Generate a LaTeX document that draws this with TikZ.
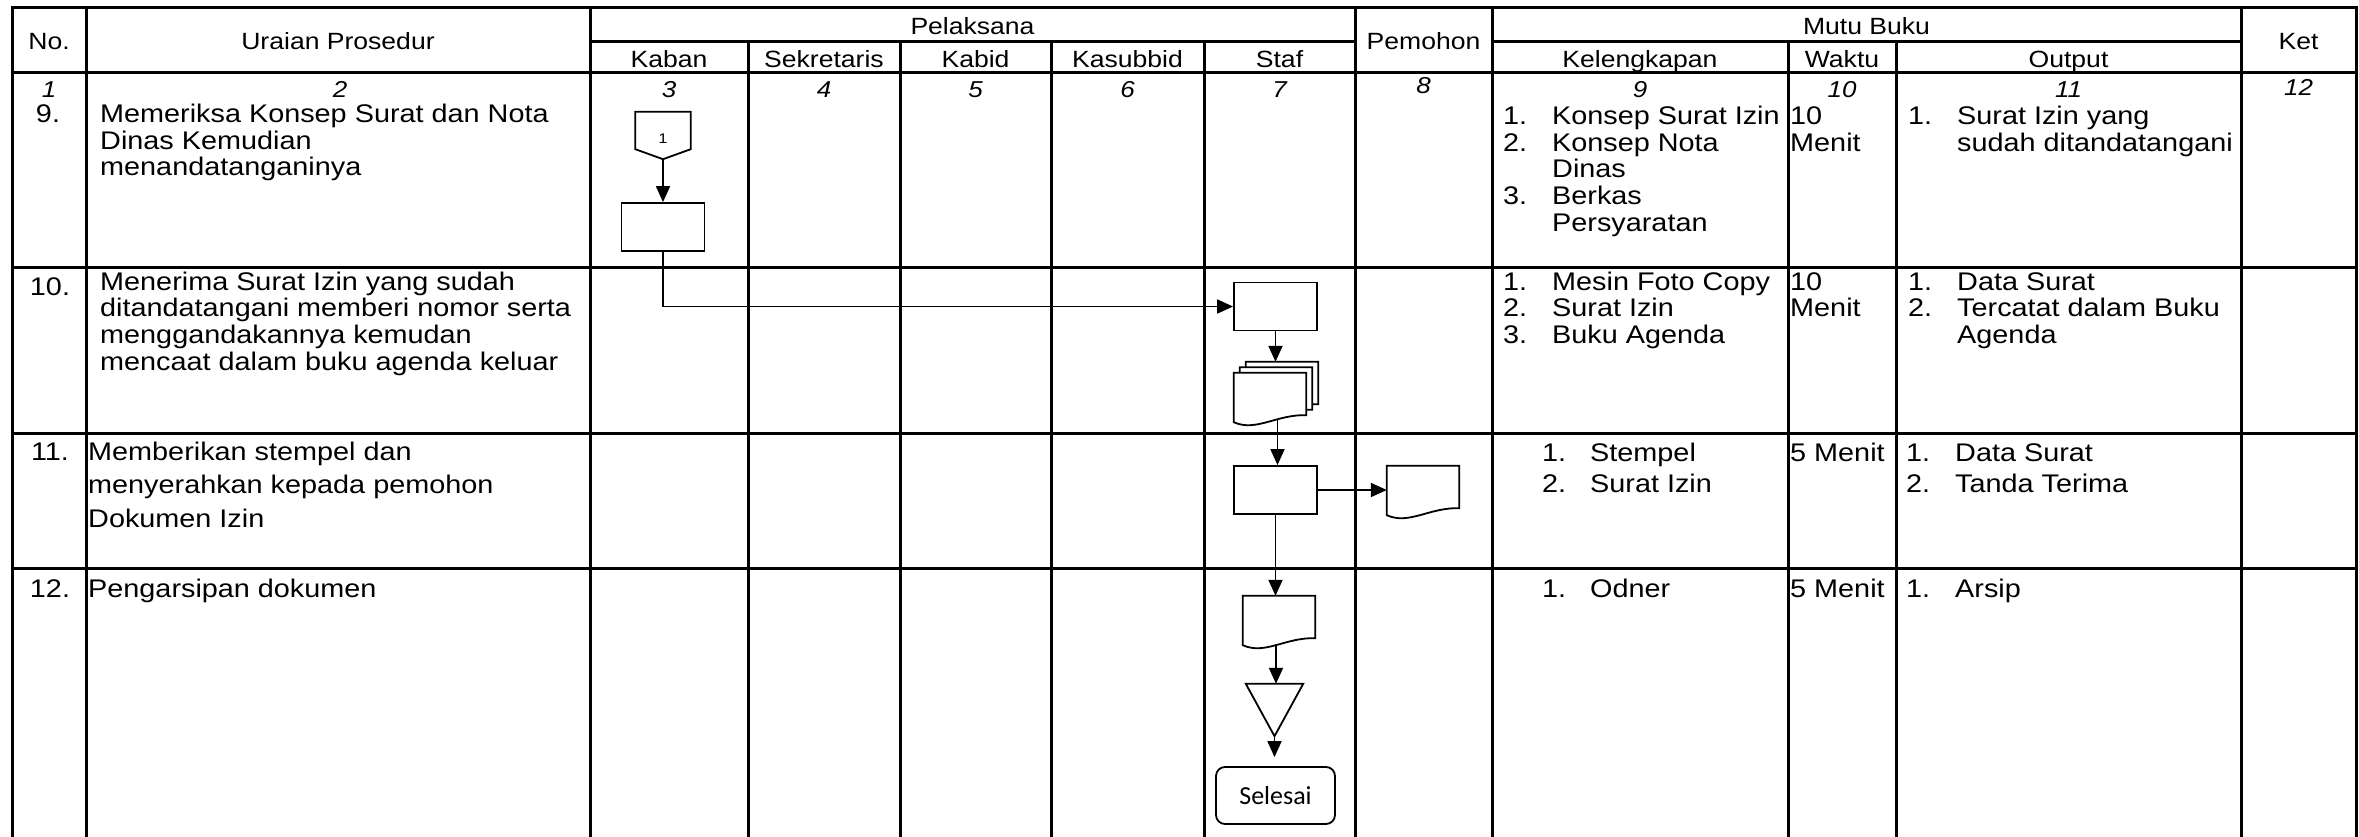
\documentclass[tikz,border=0pt]{standalone}
\usepackage{fontspec}
\setmainfont{Liberation Sans}[FakeStretch=1.13]
\newfontfamily\calfont{Carlito}
\usetikzlibrary{arrows.meta}
\newcommand\tline[4]{\node[tx] (#1) at (#2,#3) {#4};}
\newcommand\docshape[1]{\draw[fl,fill=white] (#1.north west) -- (#1.north east) -- ([yshift=7pt]#1.south east) .. controls ([xshift=43pt,yshift=8pt]#1.south west) and ([xshift=22pt,yshift=-10pt]#1.south west) .. (#1.south west) -- cycle;}
\begin{document}
\begin{tikzpicture}[x=1pt,y=-1pt,
  grid/.style={line width=3pt, line cap=rect},
  hd/.style={font=\fontsize{23.5}{26}\selectfont, inner sep=0pt, anchor=base},
  num/.style={font=\fontsize{23}{26}\selectfont\itshape, inner sep=0pt, anchor=base},
  tx/.style={font=\fontsize{25.5}{26}\selectfont, inner sep=0pt, anchor=base west},
  rn/.style={font=\fontsize{25.5}{26}\selectfont, inner sep=0pt, anchor=base},
  fl/.style={line width=1.8pt},
  arr/.style={fl, -{Triangle[length=16pt,width=14pt]}},
  procbox/.style={draw, fl, minimum width=83pt, minimum height=48pt, inner sep=0pt},
  docbox/.style={minimum width=72pt, minimum height=49pt, inner sep=0pt},
  ghost/.style={inner sep=0pt}
]
\fill[white] (0,0) rectangle (2359,837);
\useasboundingbox (0,0) rectangle (2359,837);

% ---------- grid ----------
\draw[grid] (12,8) -- (2356,8);
\draw[grid] (590,42) -- (1355,42);
\draw[grid] (1492,42) -- (2241,42);
\foreach \yy in {73,267,433,568} \draw[grid] (12,\yy) -- (2356,\yy);
\foreach \xx in {12,86,590,1355,1492,2241,2356} \draw[grid] (\xx,8) -- (\xx,840);
\foreach \xx in {748,900,1051,1204,1788,1896} \draw[grid] (\xx,42) -- (\xx,840);

% ---------- header ----------
\node[hd] (hNo) at (49,50) {No.};
\node[hd] (hUr) at (338,50) {Uraian Prosedur};
\node[hd] (hPel) at (972.5,35) {Pelaksana};
\node[hd] (hKab) at (669,68) {Kaban};
\node[hd] (hSek) at (824,68) {Sekretaris};
\node[hd] (hKbd) at (975.5,68) {Kabid};
\node[hd] (hKsb) at (1127.5,68) {Kasubbid};
\node[hd] (hStf) at (1279.5,68) {Staf};
\node[hd] (hPem) at (1423.5,50) {Pemohon};
\node[hd] (hMutu) at (1866.5,35) {Mutu Buku};
\node[hd] (hKel) at (1640,68) {Kelengkapan};
\node[hd] (hWak) at (1842,68) {Waktu};
\node[hd] (hOut) at (2068.5,68) {Output};
\node[hd] (hKet) at (2298.5,50) {Ket};

% ---------- column numbers ----------
\node[num] (n1) at (49,98) {1};
\node[num] (n2) at (340,98) {2};
\node[num] (n3) at (669,98) {3};
\node[num] (n4) at (824,98) {4};
\node[num] (n5) at (975.5,98) {5};
\node[num] (n6) at (1127.5,98) {6};
\node[num] (n7) at (1279.5,98) {7};
\node[num] (n8) at (1423.5,94) {8};
\node[num] (n9) at (1640,98) {9};
\node[num] (n10) at (1842,98) {10};
\node[num] (n11) at (2068.5,98) {11};
\node[num] (n12) at (2298.5,96) {12};

% ---------- row numbers ----------
\node[rn] (rn9) at (48,123) {9.};
\node[rn] (rn10) at (50,295) {10.};
\node[rn] (rn11) at (50,460) {11.};
\node[rn] (rn12) at (50,597) {12.};

% ---------- uraian ----------
\tline{u9a}{100}{123}{Memeriksa Konsep Surat dan Nota}
\tline{u9b}{100}{149.5}{Dinas Kemudian}
\tline{u9c}{100}{176}{menandatanganinya}
\tline{u10a}{100}{290}{Menerima Surat Izin yang sudah}
\tline{u10b}{100}{316.7}{ditandatangani memberi nomor serta}
\tline{u10c}{100}{343.3}{menggandakannya kemudan}
\tline{u10d}{100}{370}{mencaat dalam buku agenda keluar}
\tline{u11a}{88}{460}{Memberikan stempel dan}
\tline{u11b}{88}{493}{menyerahkan kepada pemohon}
\tline{u11c}{88}{527}{Dokumen Izin}
\tline{u12a}{88}{597}{Pengarsipan dokumen}

% ---------- kelengkapan ----------
\tline{k9n1}{1503}{125}{1.}
\tline{k9t1}{1552}{125}{Konsep Surat Izin}
\tline{k9n2}{1503}{151.5}{2.}
\tline{k9t2}{1552}{151.5}{Konsep Nota}
\tline{k9t2b}{1552}{178}{Dinas}
\tline{k9n3}{1503}{205}{3.}
\tline{k9t3}{1552}{205}{Berkas}
\tline{k9t3b}{1552}{232}{Persyaratan}
\tline{k10n1}{1503}{290}{1.}
\tline{k10t1}{1552}{290}{Mesin Foto Copy}
\tline{k10n2}{1503}{316.7}{2.}
\tline{k10t2}{1552}{316.7}{Surat Izin}
\tline{k10n3}{1503}{343.3}{3.}
\tline{k10t3}{1552}{343.3}{Buku Agenda}
\tline{k11n1}{1542}{461}{1.}
\tline{k11t1}{1590}{461}{Stempel}
\tline{k11n2}{1542}{492}{2.}
\tline{k11t2}{1590}{492}{Surat Izin}
\tline{k12n1}{1542}{597}{1.}
\tline{k12t1}{1590}{597}{Odner}

% ---------- waktu ----------
\tline{w9a}{1790}{125}{10}
\tline{w9b}{1790}{151.5}{Menit}
\tline{w10a}{1790}{290}{10}
\tline{w10b}{1790}{316.7}{Menit}
\tline{w11a}{1790}{461}{5 Menit}
\tline{w12a}{1790}{597}{5 Menit}

% ---------- output ----------
\tline{o9n1}{1908}{125}{1.}
\tline{o9t1}{1957}{125}{Surat Izin yang}
\tline{o9t1b}{1957}{151.5}{sudah ditandatangani}
\tline{o10n1}{1908}{290}{1.}
\tline{o10t1}{1957}{290}{Data Surat}
\tline{o10n2}{1908}{316.7}{2.}
\tline{o10t2}{1957}{316.7}{Tercatat dalam Buku}
\tline{o10t2b}{1957}{343.3}{Agenda}
\tline{o11n1}{1906}{461}{1.}
\tline{o11t1}{1955}{461}{Data Surat}
\tline{o11n2}{1906}{492}{2.}
\tline{o11t2}{1955}{492}{Tanda Terima}
\tline{o12n1}{1906}{597}{1.}
\tline{o12t1}{1955}{597}{Arsip}

% ---------- flowchart ----------
% off-page connector
\node[ghost, minimum width=55pt, minimum height=47pt] (oc) at (663,135.5) {};
\draw[fl] (oc.north west) -- (oc.north east) -- ([yshift=10pt]oc.south east) -- (oc.south) -- ([yshift=10pt]oc.south west) -- cycle;
\node[font=\fontsize{14}{14}\selectfont, inner sep=0pt] (ocl) at (663,139) {1};

\node[procbox] (k1) at (663,227) {};
\draw[arr] (oc.south) -- (k1.north);

\node[procbox] (s1) at (1275.5,306.5) {};
\draw[arr] (k1.south) |- (s1.west);

% multi document
\node[docbox] (mdC) at (1282,386.5) {};
\node[docbox] (mdB) at (1276,392) {};
\node[docbox] (mdA) at (1270,397.5) {};
\docshape{mdC}
\docshape{mdB}
\docshape{mdA}
\draw[arr] (s1.south) -- (s1.south |- mdC.north);

\node[procbox] (s2) at (1275.5,490) {};
\coordinate (mdOut) at (1277.5,419);
\draw[arr] (mdOut) -- (mdOut |- s2.north);

% pemohon document
\node[docbox] (pd) at (1423,490.5) {};
\docshape{pd}
\draw[arr] (s2.east) -- (s2.east -| pd.west);

% archive document
\node[docbox] (d12) at (1279,620.5) {};
\docshape{d12}
\draw[arr] (s2.south) -- (s2.south |- d12.north);

% storage triangle
\node[ghost, minimum width=57pt, minimum height=52pt] (tri) at (1274.5,710) {};
\draw[fl] (tri.north west) -- (tri.north east) -- (tri.south) -- cycle;
\coordinate (d12out) at (1276,644);
\draw[arr] (d12out) -- (d12out |- tri.north);

% terminator
\node[draw, fl, rounded corners=9pt, minimum width=119pt, minimum height=57pt, inner sep=0pt, font=\calfont\fontsize{26}{26}\selectfont] (sel) at (1275.5,795.5) {Selesai};
\draw[arr, shorten >=9pt] (tri.south) -- (tri.south |- sel.north);
\end{tikzpicture}
\end{document}
